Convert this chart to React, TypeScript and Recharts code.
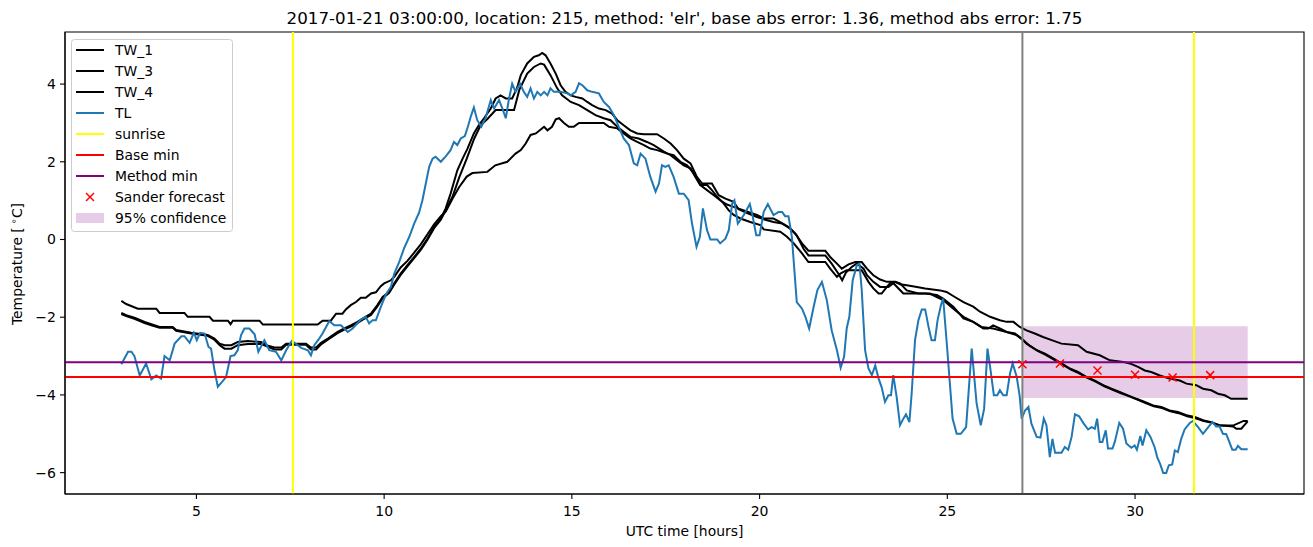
import React from 'react';
import { ComposedChart, Line, Scatter, XAxis, YAxis, ReferenceLine, ReferenceArea } from 'recharts';

const TITLE = "2017-01-21 03:00:00, location: 215, method: 'elr', base abs error: 1.36, method abs error: 1.75";

const TW_1: [number, number][] = [
  [3.0,-1.58],[3.13,-1.66],[3.44,-1.78],[3.93,-1.78],[4.02,-1.89],[4.68,-1.89],[4.77,-1.99],[5.35,-1.99],[5.44,-2.09],[5.84,-2.09],[5.91,-2.18],[5.97,-2.09],[6.68,-2.09],[6.77,-2.19],[8.23,-2.19],[8.36,-2.09],[8.58,-2.09],[8.72,-1.91],[8.89,-1.91],[8.98,-1.80],[9.11,-1.69],[9.25,-1.61],[9.38,-1.50],[9.51,-1.50],[9.65,-1.39],[9.78,-1.36],[9.91,-1.20],[10.0,-1.13],[10.18,-1.05],[10.27,-0.96],[10.44,-0.72],[10.62,-0.55],[10.8,-0.34],[10.98,-0.12],[11.15,0.13],[11.33,0.39],[11.51,0.60],[11.64,0.72],[11.82,1.05],[12.0,1.35],[12.2,1.62],[12.35,1.71],[12.75,1.74],[12.96,1.91],[13.28,2.0],[13.5,2.21],[13.64,2.30],[13.77,2.47],[13.9,2.69],[14.04,2.73],[14.17,2.83],[14.26,2.90],[14.35,2.81],[14.47,2.90],[14.57,3.09],[14.66,3.12],[14.79,3.0],[14.92,2.90],[15.05,2.90],[15.19,3.0],[15.85,3.0],[15.99,2.90],[16.21,2.86],[16.38,2.73],[16.56,2.60],[16.74,2.51],[16.92,2.43],[17.09,2.34],[17.27,2.30],[17.54,2.21],[17.71,2.17],[17.89,2.0],[18.07,1.91],[18.25,1.70],[18.42,1.40],[18.6,1.27],[18.78,1.14],[18.95,1.01],[19.13,0.90],[19.31,0.84],[19.58,0.75],[19.75,0.69],[19.93,0.63],[20.11,0.54],[20.37,0.54],[20.55,0.45],[20.77,0.32],[20.95,0.15],[21.13,-0.10],[21.3,-0.29],[21.75,-0.29],[21.88,-0.45],[22.06,-0.62],[22.19,-0.75],[22.37,-0.64],[22.55,-0.58],[22.72,-0.58],[22.86,-0.75],[23.03,-0.92],[23.21,-1.03],[23.39,-1.09],[23.61,-1.09],[23.74,-1.15],[23.92,-1.18],[24.19,-1.22],[24.41,-1.26],[24.81,-1.31],[24.98,-1.35],[25.2,-1.48],[25.43,-1.61],[25.69,-1.73],[25.87,-1.86],[26.14,-1.99],[26.4,-2.08],[26.58,-2.12],[26.76,-2.12],[26.93,-2.25],[27.11,-2.34],[27.33,-2.42],[27.55,-2.51],[27.78,-2.59],[28.04,-2.68],[28.48,-2.72],[28.71,-2.89],[29.06,-2.98],[29.33,-3.11],[29.68,-3.15],[29.86,-3.19],[30.08,-3.28],[30.26,-3.37],[30.43,-3.41],[30.66,-3.50],[30.92,-3.58],[31.19,-3.63],[31.37,-3.71],[31.63,-3.75],[31.81,-3.84],[32.03,-3.88],[32.21,-3.97],[32.39,-4.01],[32.56,-4.10],[33.0,-4.10]
];

const TW_3: [number, number][] = [
  [3.0,-1.89],[3.13,-1.95],[3.35,-2.01],[3.62,-2.12],[3.8,-2.18],[4.02,-2.25],[4.37,-2.25],[4.46,-2.33],[4.86,-2.40],[5.30,-2.46],[5.48,-2.55],[5.62,-2.68],[5.75,-2.72],[5.93,-2.72],[6.1,-2.64],[6.37,-2.61],[6.72,-2.64],[6.86,-2.72],[7.08,-2.78],[7.26,-2.78],[7.39,-2.68],[7.92,-2.68],[8.05,-2.78],[8.19,-2.78],[8.32,-2.66],[8.5,-2.55],[8.76,-2.38],[8.94,-2.29],[9.11,-2.21],[9.29,-2.12],[9.47,-2.01],[9.65,-1.91],[9.82,-1.69],[9.96,-1.48],[10.13,-1.35],[10.27,-1.13],[10.44,-0.88],[10.62,-0.66],[10.8,-0.45],[10.98,-0.23],[11.15,0.02],[11.33,0.32],[11.51,0.54],[11.64,0.80],[11.77,1.18],[11.95,1.78],[12.09,2.08],[12.22,2.34],[12.39,2.73],[12.52,2.94],[12.66,3.12],[12.84,3.37],[12.97,3.63],[13.1,3.71],[13.24,3.63],[13.41,3.63],[13.54,3.9],[13.64,4.23],[13.81,4.53],[13.99,4.70],[14.12,4.74],[14.21,4.80],[14.30,4.74],[14.43,4.53],[14.57,4.27],[14.7,3.97],[14.83,3.80],[14.97,3.71],[15.1,3.67],[15.28,3.63],[15.41,3.54],[15.54,3.46],[15.72,3.37],[15.9,3.33],[16.07,3.24],[16.21,3.07],[16.38,2.94],[16.56,2.81],[16.74,2.73],[16.92,2.71],[17.27,2.71],[17.45,2.60],[17.63,2.47],[17.8,2.30],[17.98,2.08],[18.16,1.96],[18.33,1.61],[18.47,1.44],[18.73,1.44],[18.91,1.14],[19.09,1.05],[19.31,0.97],[19.44,0.78],[19.7,0.67],[19.93,0.58],[20.15,0.51],[20.37,0.45],[20.6,0.41],[20.82,0.28],[20.99,0.11],[21.17,-0.24],[21.3,-0.41],[21.75,-0.41],[21.92,-0.62],[22.1,-0.88],[22.2,-1.05],[22.3,-0.85],[22.46,-0.70],[22.59,-0.62],[22.77,-0.75],[22.86,-0.92],[23.03,-1.09],[23.21,-1.22],[23.43,-1.22],[23.61,-1.09],[23.74,-1.13],[23.92,-1.31],[24.23,-1.39],[24.41,-1.39],[24.72,-1.43],[24.89,-1.52],[25.16,-1.73],[25.43,-2.03],[25.69,-2.12],[25.96,-2.29],[26.09,-2.29],[26.22,-2.21],[26.4,-2.29],[26.58,-2.38],[26.8,-2.42],[26.98,-2.55],[27.11,-2.68],[27.38,-2.85],[27.6,-2.94],[27.82,-3.06],[28.04,-3.19],[28.26,-3.32],[28.48,-3.41],[28.71,-3.54],[28.93,-3.63],[29.15,-3.75],[29.37,-3.84],[29.59,-3.92],[29.81,-4.01],[30.04,-4.10],[30.26,-4.18],[30.48,-4.27],[30.7,-4.31],[30.92,-4.40],[31.14,-4.44],[31.37,-4.52],[31.59,-4.57],[31.81,-4.65],[32.03,-4.70],[32.25,-4.78],[32.61,-4.81],[32.7,-4.87],[32.83,-4.87],[33.0,-4.68]
];

const TW_4: [number, number][] = [
  [3.0,-1.92],[3.13,-1.97],[3.35,-2.04],[3.62,-2.15],[3.8,-2.21],[4.02,-2.27],[4.37,-2.27],[4.46,-2.35],[4.86,-2.42],[5.30,-2.48],[5.48,-2.58],[5.62,-2.72],[5.75,-2.81],[5.93,-2.81],[6.1,-2.72],[6.37,-2.69],[6.72,-2.69],[6.86,-2.74],[7.08,-2.83],[7.26,-2.83],[7.39,-2.71],[7.92,-2.71],[8.05,-2.83],[8.19,-2.83],[8.32,-2.70],[8.5,-2.58],[8.76,-2.41],[8.94,-2.32],[9.11,-2.24],[9.29,-2.15],[9.47,-2.04],[9.65,-1.94],[9.82,-1.72],[9.96,-1.51],[10.13,-1.38],[10.27,-1.16],[10.44,-0.91],[10.62,-0.69],[10.8,-0.48],[10.98,-0.26],[11.15,-0.01],[11.33,0.29],[11.51,0.51],[11.64,0.75],[11.82,1.10],[12.0,1.6],[12.2,2.08],[12.4,2.6],[12.57,2.94],[12.75,3.10],[12.97,3.33],[13.46,3.33],[13.6,3.85],[13.81,4.27],[13.99,4.44],[14.17,4.53],[14.26,4.50],[14.43,4.23],[14.61,3.89],[14.74,3.71],[14.97,3.54],[15.19,3.46],[15.41,3.33],[15.63,3.20],[15.85,3.12],[16.03,3.07],[16.21,2.90],[16.38,2.77],[16.56,2.64],[16.78,2.60],[17.0,2.51],[17.18,2.43],[17.45,2.26],[17.63,2.17],[17.8,2.04],[17.98,1.91],[18.16,1.83],[18.29,1.61],[18.42,1.40],[18.6,1.40],[18.73,1.27],[18.87,1.10],[19.04,0.93],[19.18,0.75],[19.31,0.63],[19.49,0.54],[19.75,0.45],[20.02,0.37],[20.11,0.26],[20.55,0.20],[20.73,0.07],[20.91,-0.10],[21.13,-0.36],[21.3,-0.58],[21.75,-0.58],[21.88,-0.75],[22.06,-0.96],[22.15,-0.88],[22.32,-0.79],[22.72,-0.79],[22.9,-1.09],[23.03,-1.26],[23.17,-1.39],[23.25,-1.39],[23.39,-1.22],[23.48,-1.12],[23.56,-1.12],[23.7,-1.26],[23.83,-1.39],[24.54,-1.39],[24.72,-1.48],[24.89,-1.56],[25.16,-1.78],[25.43,-1.99],[25.69,-2.12],[25.91,-2.25],[26.22,-2.29],[26.58,-2.38],[26.84,-2.46],[27.02,-2.59],[27.2,-2.74],[27.42,-2.87],[27.62,-2.97],[27.84,-3.09],[28.06,-3.21],[28.28,-3.34],[28.5,-3.44],[28.73,-3.56],[28.95,-3.66],[29.17,-3.77],[29.39,-3.86],[29.61,-3.95],[29.83,-4.03],[30.06,-4.12],[30.28,-4.21],[30.5,-4.29],[30.72,-4.34],[30.94,-4.42],[31.16,-4.47],[31.39,-4.55],[31.61,-4.60],[31.83,-4.67],[32.05,-4.72],[32.27,-4.79],[32.61,-4.79],[32.89,-4.67],[33.0,-4.67]
];

const TL: [number, number][] = [
  [3.0,-3.21],[3.18,-2.89],[3.27,-2.89],[3.35,-3.0],[3.49,-3.5],[3.66,-3.19],[3.80,-3.6],[3.93,-3.5],[4.06,-3.58],[4.15,-3.0],[4.29,-3.11],[4.42,-2.68],[4.60,-2.49],[4.68,-2.49],[4.82,-2.66],[4.93,-2.40],[5.01,-2.59],[5.10,-2.40],[5.22,-2.42],[5.32,-2.76],[5.39,-2.81],[5.48,-3.36],[5.57,-3.79],[5.66,-3.69],[5.79,-3.54],[5.91,-3.0],[6.01,-2.98],[6.10,-2.85],[6.19,-2.46],[6.28,-2.29],[6.41,-2.29],[6.55,-2.44],[6.65,-2.89],[6.81,-2.59],[6.94,-2.85],[7.12,-2.89],[7.26,-3.11],[7.39,-2.85],[7.54,-2.61],[7.66,-2.69],[7.79,-2.79],[7.97,-2.85],[8.05,-2.98],[8.14,-2.72],[8.27,-2.55],[8.36,-2.42],[8.54,-2.10],[8.67,-2.21],[8.85,-2.21],[9.03,-2.38],[9.16,-2.29],[9.38,-2.06],[9.51,-1.99],[9.60,-2.16],[9.69,-2.08],[9.78,-2.08],[9.91,-1.74],[10.04,-1.43],[10.18,-1.22],[10.27,-0.88],[10.40,-0.58],[10.53,-0.23],[10.67,0.07],[10.80,0.41],[10.93,0.69],[11.02,1.01],[11.11,1.44],[11.20,1.87],[11.29,2.08],[11.37,2.13],[11.51,2.0],[11.64,2.14],[11.77,2.30],[11.86,2.51],[11.95,2.43],[12.04,2.60],[12.15,2.66],[12.23,2.90],[12.31,3.17],[12.39,3.40],[12.48,3.07],[12.59,2.90],[12.70,3.12],[12.84,3.59],[12.93,3.37],[13.06,3.59],[13.15,3.37],[13.24,3.12],[13.32,3.59],[13.41,4.01],[13.50,3.80],[13.62,4.01],[13.72,3.80],[13.81,3.67],[13.9,3.89],[13.99,3.63],[14.08,3.80],[14.17,3.71],[14.26,3.80],[14.35,3.71],[14.43,3.89],[14.52,3.80],[14.7,3.80],[14.88,3.76],[14.97,3.71],[15.1,3.80],[15.19,4.02],[15.28,3.97],[15.41,3.84],[15.54,3.80],[15.72,3.76],[15.85,3.54],[15.99,3.41],[16.12,3.20],[16.25,2.90],[16.38,2.60],[16.52,2.43],[16.65,1.96],[16.74,1.91],[16.83,2.21],[16.96,2.08],[17.09,1.61],[17.23,1.23],[17.32,1.44],[17.4,1.91],[17.49,1.87],[17.58,1.91],[17.71,1.61],[17.85,1.18],[17.98,1.18],[18.11,1.01],[18.2,0.41],[18.32,-0.19],[18.41,0.07],[18.49,0.80],[18.6,0.24],[18.69,0.0],[18.87,0.0],[18.95,-0.10],[19.09,0.02],[19.18,0.24],[19.27,0.93],[19.33,1.01],[19.42,0.41],[19.58,0.63],[19.74,0.91],[19.82,0.58],[19.91,0.11],[20.0,0.11],[20.11,0.71],[20.22,0.91],[20.37,0.63],[20.51,0.71],[20.6,0.71],[20.68,0.60],[20.77,0.60],[20.86,0.07],[20.99,-1.61],[21.13,-1.78],[21.22,-1.99],[21.32,-2.29],[21.44,-1.73],[21.54,-1.30],[21.66,-1.09],[21.79,-1.56],[21.92,-2.34],[22.06,-2.85],[22.16,-3.30],[22.25,-3.02],[22.32,-2.29],[22.39,-1.99],[22.48,-1.05],[22.59,-0.66],[22.66,-0.62],[22.72,-1.30],[22.81,-2.85],[22.9,-3.32],[22.99,-3.49],[23.08,-3.24],[23.17,-3.58],[23.25,-3.80],[23.34,-4.18],[23.43,-4.01],[23.5,-4.01],[23.56,-3.49],[23.65,-4.05],[23.74,-4.78],[23.83,-4.61],[23.9,-4.50],[23.99,-4.70],[24.05,-3.97],[24.14,-2.59],[24.23,-2.08],[24.32,-1.80],[24.41,-1.80],[24.5,-2.25],[24.58,-2.59],[24.67,-2.59],[24.74,-2.08],[24.83,-1.69],[24.89,-1.52],[25.0,-2.85],[25.14,-4.61],[25.25,-5.0],[25.36,-5.0],[25.5,-4.83],[25.65,-2.81],[25.78,-4.22],[25.89,-4.78],[25.98,-4.36],[26.07,-2.81],[26.14,-3.28],[26.24,-4.01],[26.33,-4.01],[26.4,-3.88],[26.49,-4.01],[26.58,-4.01],[26.67,-3.45],[26.74,-3.19],[26.85,-3.54],[26.93,-4.05],[26.98,-4.61],[27.07,-4.40],[27.16,-4.31],[27.24,-4.74],[27.38,-5.08],[27.48,-5.10],[27.57,-4.61],[27.64,-4.78],[27.73,-5.60],[27.8,-5.13],[27.87,-5.49],[28.04,-5.49],[28.13,-5.34],[28.22,-5.41],[28.31,-5.08],[28.4,-4.50],[28.51,-4.55],[28.62,-4.72],[28.75,-4.89],[28.84,-4.83],[28.93,-4.87],[28.99,-4.61],[29.06,-5.21],[29.13,-5.21],[29.22,-4.91],[29.28,-5.38],[29.4,-5.38],[29.46,-5.21],[29.58,-4.72],[29.68,-4.87],[29.77,-5.25],[29.9,-5.36],[29.99,-5.30],[30.05,-5.41],[30.14,-5.06],[30.2,-5.30],[30.3,-4.91],[30.41,-5.08],[30.52,-5.34],[30.59,-5.60],[30.67,-5.78],[30.75,-6.01],[30.83,-6.01],[30.9,-5.81],[30.99,-5.79],[31.06,-5.43],[31.14,-5.47],[31.23,-5.13],[31.32,-4.89],[31.46,-4.72],[31.54,-4.67],[31.68,-4.83],[31.81,-5.0],[31.94,-4.84],[32.06,-4.70],[32.16,-4.81],[32.25,-4.81],[32.34,-5.0],[32.43,-5.01],[32.59,-5.41],[32.68,-5.41],[32.74,-5.31],[32.83,-5.40],[33.0,-5.40]
];

const FORECAST: [number, number][] = [[27,-3.21],[28,-3.19],[29,-3.37],[30,-3.48],[31,-3.55],[32,-3.49]];
const SUNRISE = [7.57, 31.57];
const FORECAST_START = 27;
const BASE_MIN = -3.54;
const METHOD_MIN = -3.16;
const CONF_X = [27, 33];
const CONF_Y = [-4.08, -2.23];
const X_TICKS = [5, 10, 15, 20, 25, 30];
const Y_TICKS = [-6, -4, -2, 0, 2, 4];
const X_DOMAIN = [1.5, 34.5];
const Y_DOMAIN = [-6.55, 5.34];

const toPts = (a: [number, number][]) => a.map(([t, v]) => ({ t, v }));

const FONT = "'DejaVu Sans', sans-serif";
const fmt = (v: number) => String(v).replace('-', '\u2212');

const XMark = (props: any) => {
  const { cx, cy } = props;
  const s = 4;
  return (
    <g>
      <line x1={cx - s} y1={cy - s} x2={cx + s} y2={cy + s} stroke="red" strokeWidth={1.5} />
      <line x1={cx - s} y1={cy + s} x2={cx + s} y2={cy - s} stroke="red" strokeWidth={1.5} />
    </g>
  );
};

const LEGEND = [
  { label: 'TW_1', kind: 'line', color: '#000' },
  { label: 'TW_3', kind: 'line', color: '#000' },
  { label: 'TW_4', kind: 'line', color: '#000' },
  { label: 'TL', kind: 'line', color: '#1f77b4' },
  { label: 'sunrise', kind: 'line', color: 'yellow' },
  { label: 'Base min', kind: 'line', color: 'red' },
  { label: 'Method min', kind: 'line', color: 'purple' },
  { label: 'Sander forecast', kind: 'x', color: 'red' },
  { label: '95% confidence', kind: 'patch', color: 'purple' },
];

export default function App() {
  return (
    <div style={{ position: 'absolute', left: 0, top: 0, width: 1313, height: 547, background: '#fff' }}>
      <ComposedChart width={1313} height={547} margin={{ top: 32, right: 9, bottom: 0, left: 0 }}>
        <XAxis
          type="number"
          dataKey="t"
          domain={X_DOMAIN}
          ticks={X_TICKS}
          allowDataOverflow
          height={53}
          tickSize={5}
          tickMargin={7}
          tickFormatter={fmt}
          tick={{ fill: '#000', fontSize: 14, fontFamily: FONT }}
          axisLine={{ stroke: '#000', strokeWidth: 1.1 }}
          tickLine={{ stroke: '#000', strokeWidth: 1.1 }}
        />
        <YAxis
          type="number"
          dataKey="v"
          domain={Y_DOMAIN}
          ticks={Y_TICKS}
          allowDataOverflow
          width={65}
          tickSize={5}
          tickMargin={4}
          tickFormatter={fmt}
          tick={{ fill: '#000', fontSize: 14, fontFamily: FONT }}
          axisLine={{ stroke: '#000', strokeWidth: 1.1 }}
          tickLine={{ stroke: '#000', strokeWidth: 1.1 }}
        />
        <Line data={toPts(TW_1)} dataKey="v" stroke="#000" strokeWidth={2} dot={false} isAnimationActive={false} />
        <Line data={toPts(TW_3)} dataKey="v" stroke="#000" strokeWidth={2} dot={false} isAnimationActive={false} />
        <Line data={toPts(TW_4)} dataKey="v" stroke="#000" strokeWidth={2} dot={false} isAnimationActive={false} />
        <Line data={toPts(TL)} dataKey="v" stroke="#1f77b4" strokeWidth={2} dot={false} isAnimationActive={false} />
        {SUNRISE.map((s) => (
          <ReferenceLine key={s} x={s} stroke="yellow" strokeWidth={2} />
        ))}
        <ReferenceLine y={BASE_MIN} stroke="red" strokeWidth={2} />
        <ReferenceLine y={METHOD_MIN} stroke="purple" strokeWidth={2} />
        <Scatter data={toPts(FORECAST)} dataKey="v" shape={XMark} isAnimationActive={false} />
        <ReferenceArea x1={CONF_X[0]} x2={CONF_X[1]} y1={CONF_Y[0]} y2={CONF_Y[1]} fill="purple" fillOpacity={0.2} stroke="none" />
        <ReferenceLine x={FORECAST_START} stroke="grey" strokeWidth={2} />
        <ReferenceArea x1={X_DOMAIN[0]} x2={X_DOMAIN[1]} y1={Y_DOMAIN[0]} y2={Y_DOMAIN[1]} fill="none" stroke="#000" strokeWidth={1.1} />
      </ComposedChart>
      <svg width={1313} height={547} style={{ position: 'absolute', left: 0, top: 0, pointerEvents: 'none' }}>
        <text x={684.5} y={24} textAnchor="middle" fontFamily={FONT} fontSize={16.7} fill="#000">{TITLE}</text>
        <text x={684.5} y={535.5} textAnchor="middle" fontFamily={FONT} fontSize={13.9} fill="#000">UTC time [hours]</text>
        <text transform="translate(22,264) rotate(-90)" textAnchor="middle" fontFamily={FONT} fontSize={13.9} fill="#000">
          Temperature [<tspan fontSize={9.7} dy={-5}>{' \u2218'}</tspan><tspan dy={5}>C]</tspan>
        </text>
        <rect x={71.5} y={39.5} width={161} height={192} rx={3} fill="#fff" fillOpacity={0.8} stroke="#ccc" strokeWidth={1} />
        {LEGEND.map((e, i) => {
          const cy = 50 + i * 21;
          return (
            <g key={e.label}>
              {e.kind === 'line' && <line x1={76} x2={104} y1={cy} y2={cy} stroke={e.color} strokeWidth={2} />}
              {e.kind === 'x' && (
                <g>
                  <line x1={86} y1={cy - 4} x2={94} y2={cy + 4} stroke="red" strokeWidth={1.5} />
                  <line x1={86} y1={cy + 4} x2={94} y2={cy - 4} stroke="red" strokeWidth={1.5} />
                </g>
              )}
              {e.kind === 'patch' && <rect x={76} y={cy - 5} width={28} height={10} fill="purple" fillOpacity={0.2} />}
              <text x={115} y={cy + 5} fontFamily={FONT} fontSize={13.9} fill="#000">{e.label}</text>
            </g>
          );
        })}
      </svg>
    </div>
  );
}
